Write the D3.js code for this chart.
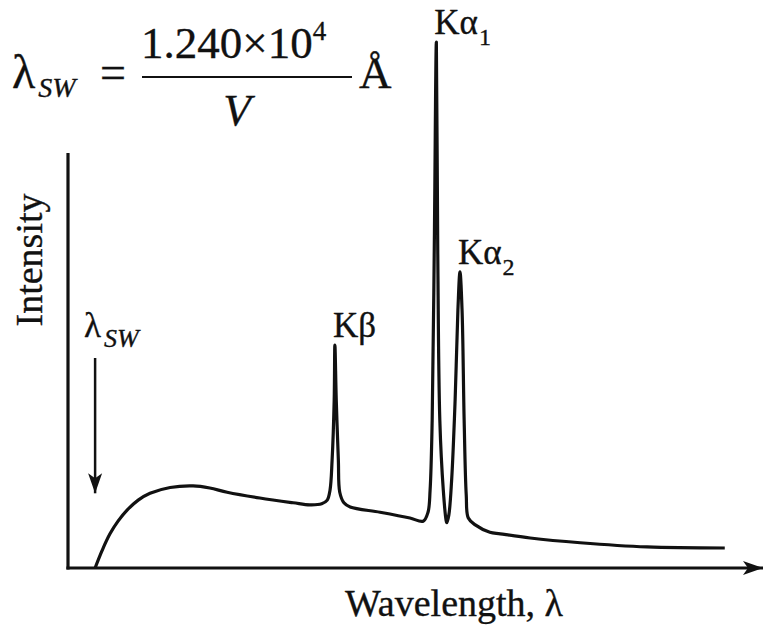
<!DOCTYPE html>
<html>
<head>
<meta charset="utf-8">
<script src="https://cdn.jsdelivr.net/npm/d3@7"></script>
<style>
  html, body { margin: 0; padding: 0; background: #fff; }
  svg { display: block; }
  text { font-family: "Liberation Serif", "Times New Roman", serif; fill: #111; stroke: #111; stroke-width: 0.35px; }
</style>
</head>
<body>
<svg id="chart" width="770" height="627"></svg>
<script>
// X-ray tube emission spectrum: bremsstrahlung continuum plus characteristic K lines
// (wavelength and intensity in arbitrary units)
const wavelength = [
  3.9, 4.9, 6.0, 7.2, 8.5, 10.1, 11.8, 14.7, 18.0, 20.4, 22.9, 27.6, 32.4, 34.8, 36.5,
  37.3, 37.7, 38.0, 38.3, 38.4, 38.6, 38.9, 39.1, 39.7, 40.6,
  44.9, 49.2, 51.1,
  51.8, 52.1, 52.4, 52.7, 53.0, 53.2, 53.5, 54.0, 54.4, 54.5,
  54.8, 55.2, 55.7, 56.1, 56.4, 56.7, 57.0, 57.3, 57.6,
  58.6, 60.7, 62.2, 66.5, 73.7, 83.3, 94.5
];
const intensity = [
  0, 3.3, 6.4, 8.9, 11.0, 12.9, 14.2, 15.3, 15.6, 15.2, 14.4, 13.3, 12.4, 12.0, 12.2,
  12.9, 14.8, 20.5, 31.9, 42.4, 31.9, 20.5, 14.4, 12.4, 11.6,
  10.6, 9.5, 8.9,
  10.6, 14.8, 28.1, 60.5, 100, 60.5, 28.1, 14.8, 9.1, 8.6,
  10.1, 16.7, 31.9, 49.0, 56.3, 49.0, 28.1, 13.9, 9.5,
  8.2, 6.8, 6.5, 5.7, 4.8, 4.0, 3.8
];

// Characteristic line labels: [main text, subscript, wavelength, intensity]
const lineNames = ["K\u03b1", "K\u03b1", "K\u03b2"];
const lineSubs = ["1", "2", ""];
const lineWavelength = [53.0, 56.4, 38.4];
const lineIntensity = [100, 56.3, 42.4];

// Short-wavelength limit
const swLimit = 3.9;
const axisLabels = ["Wavelength, \u03bb", "Intensity"];

const svg = d3.select("#chart");
const x = d3.scaleLinear().domain([0, 100]).range([68, 763]);
const y = d3.scaleLinear().domain([0, 100]).range([568, 42]);

const defs = svg.append("defs");
defs.append("marker")
  .attr("id", "head")
  .attr("viewBox", "0 0 20 16")
  .attr("refX", 20).attr("refY", 8)
  .attr("markerWidth", 20).attr("markerHeight", 16)
  .attr("markerUnits", "userSpaceOnUse")
  .attr("orient", "auto")
  .append("path")
  .attr("d", "M0,1 L20,8 L0,15 L5,8 Z")
  .attr("fill", "#111");

// Axes
svg.append("line")
  .attr("x1", x(0)).attr("y1", 153).attr("x2", x(0)).attr("y2", y(0) + 1.5)
  .attr("stroke", "#111").attr("stroke-width", 3.2);
svg.append("line")
  .attr("x1", x(0) - 1.6).attr("y1", y(0)).attr("x2", x(100)).attr("y2", y(0))
  .attr("stroke", "#111").attr("stroke-width", 3.2)
  .attr("marker-end", "url(#head)");

// Spectrum
const pts = wavelength.map((w, i) => [w, intensity[i]]);
const line = d3.line()
  .x(d => x(d[0])).y(d => y(d[1]))
  .curve(d3.curveCatmullRom.alpha(0.5));
svg.append("path")
  .datum(pts)
  .attr("d", line)
  .attr("fill", "none")
  .attr("stroke", "#111")
  .attr("stroke-width", 3.2)
  .attr("stroke-linejoin", "round");

// Short-wavelength limit arrow
svg.append("line")
  .attr("x1", x(swLimit)).attr("y1", 358)
  .attr("x2", x(swLimit)).attr("y2", y(14.2))
  .attr("stroke", "#111").attr("stroke-width", 2.5)
  .attr("marker-end", "url(#head)");
const swLab = svg.append("text").attr("x", 84).attr("y", 337).style("font-size", "35px");
swLab.append("tspan").text("\u03bb");
swLab.append("tspan").attr("dy", 10).attr("dx", 3).style("font-size", "26px").style("font-style", "italic").text("SW");

// Peak labels
lineNames.forEach((name, i) => {
  const t = svg.append("text")
    .attr("x", x(lineWavelength[i]) - 2)
    .attr("y", y(lineIntensity[i]) - 8)
    .style("font-size", "35px");
  t.append("tspan").text(name);
  if (lineSubs[i]) {
    t.append("tspan").attr("dy", 11).attr("dx", 1).style("font-size", "24px").text(lineSubs[i]);
  }
});

// Axis titles
svg.append("text")
  .attr("x", 454).attr("y", 616)
  .attr("text-anchor", "middle")
  .style("font-size", "38px")
  .text(axisLabels[0]);
svg.append("text")
  .attr("transform", "translate(42,260) rotate(-90)")
  .attr("text-anchor", "middle")
  .style("font-size", "38px")
  .text(axisLabels[1]);

// Duane-Hunt relation
const f = svg.append("g");
const lam = f.append("text").attr("x", 12).attr("y", 88).style("font-size", "48px");
lam.append("tspan").text("\u03bb");
lam.append("tspan").attr("dy", 9).attr("dx", 3).style("font-size", "28px").style("font-style", "italic").text("SW");
f.append("text").attr("x", 100).attr("y", 88).style("font-size", "46px").text("=");
const num = f.append("text").attr("x", 141).attr("y", 58).style("font-size", "45px");
num.append("tspan").text("1.240\u00d710");
num.append("tspan").attr("dy", -18).style("font-size", "27px").text("4");
f.append("line")
  .attr("x1", 142).attr("x2", 352).attr("y1", 77).attr("y2", 77)
  .attr("stroke", "#111").attr("stroke-width", 2);
f.append("text").attr("x", 237).attr("y", 125).attr("text-anchor", "middle")
  .style("font-size", "45px").style("font-style", "italic").text("V");
f.append("text").attr("x", 359).attr("y", 88).style("font-size", "45px").text("\u00c5");
</script>
</body>
</html>
